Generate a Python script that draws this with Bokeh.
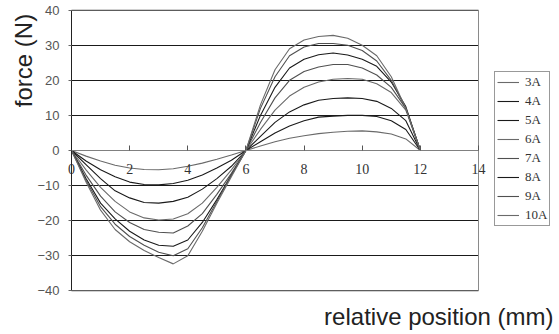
from bokeh.plotting import figure
from bokeh.models import Range1d, Legend, LegendItem, Label, FixedTicker
from bokeh.embed import file_html
from bokeh.resources import INLINE
import math

# relative position (mm)
pos = [0, 0.5, 1, 1.5, 2, 2.5, 3, 3.5, 4, 4.5, 5, 5.5, 6,
       6.5, 7, 7.5, 8, 8.5, 9, 9.5, 10, 10.5, 11, 11.5, 12]

f_3A = [0, -1.6, -3.0, -4.2, -5.0, -5.4, -5.5, -5.2, -4.5, -3.6, -2.5, -1.3, 0,
        1.3, 2.5, 3.5, 4.2, 4.8, 5.2, 5.5, 5.6, 5.3, 4.7, 3.3, 0]
f_4A = [0, -3.0, -5.5, -7.5, -9.0, -9.7, -9.8, -9.4, -8.5, -7.0, -5.0, -2.8, 0,
        2.5, 5.0, 7.0, 8.5, 9.5, 9.8, 10.0, 10.0, 9.7, 8.5, 6.0, 0]
f_5A = [0, -4.0, -8.0, -11.5, -13.5, -14.8, -15.0, -14.5, -13.3, -11.0, -8.0, -4.5, 0,
        4.0, 8.0, 11.0, 13.0, 14.3, 14.8, 15.0, 14.8, 14.0, 12.0, 8.5, 0]
f_6A = [0, -5.5, -10.5, -14.5, -17.5, -19.2, -19.8, -19.5, -18.0, -15.0, -10.5, -5.5, 0,
        6.0, 11.5, 15.5, 18.0, 19.5, 20.3, 20.5, 20.3, 19.0, 16.5, 11.5, 0]
f_7A = [0, -7.0, -13.0, -17.5, -20.5, -22.5, -23.3, -23.5, -21.5, -18.0, -12.5, -6.5, 0,
        8.0, 15.0, 20.0, 22.5, 23.8, 24.5, 24.5, 23.5, 21.5, 18.0, 12.0, 0]
f_8A = [0, -8.0, -15.0, -19.5, -23.0, -25.5, -27.0, -27.3, -25.5, -20.5, -14.0, -7.0, 0,
        10.0, 18.0, 23.5, 26.0, 27.3, 27.8, 27.2, 26.0, 24.0, 19.5, 12.5, 0]
f_9A = [0, -8.5, -16.0, -21.0, -24.5, -27.0, -29.0, -30.0, -28.0, -22.0, -14.5, -7.0, 0,
        12.0, 21.0, 27.0, 29.5, 30.5, 30.5, 30.0, 28.5, 25.5, 20.0, 12.0, 0]
f_10A = [0, -9.0, -17.0, -22.5, -26.0, -28.5, -30.5, -32.3, -30.0, -23.0, -15.0, -7.5, 0,
         13.0, 23.0, 29.0, 31.5, 32.5, 32.8, 32.0, 30.0, 27.0, 21.0, 12.0, 0]

series_names = ["3A", "4A", "5A", "6A", "7A", "8A", "9A", "10A"]
series_values = [f_3A, f_4A, f_5A, f_6A, f_7A, f_8A, f_9A, f_10A]
series_colors = ["#6a6a6a", "#1a1a1a", "#1a1a1a", "#6a6a6a",
                 "#505050", "#1a1a1a", "#505050", "#6a6a6a"]

x_ticks = [0, 2, 4, 6, 8, 10, 12, 14]
y_ticks = [-40, -30, -20, -10, 0, 10, 20, 30, 40]

W, H = 559, 334
# plot box placement on the canvas (pixels)
box_left, box_right, box_top, box_bottom = 71, 478, 9.6, 290.4
xs = (box_right - box_left) / (x_ticks[-1] - x_ticks[0])
ys = (box_bottom - box_top) / (y_ticks[-1] - y_ticks[0])
x_range = Range1d(x_ticks[0] - box_left / xs, x_ticks[-1] + (W - box_right) / xs)
y_range = Range1d(y_ticks[0] - (H - box_bottom) / ys, y_ticks[-1] + box_top / ys)

p = figure(width=W, height=H, output_backend="svg", toolbar_location=None,
           x_range=x_range, y_range=y_range,
           min_border_left=0, min_border_right=0,
           min_border_top=0, min_border_bottom=0)
p.background_fill_color = "white"
p.border_fill_color = "white"
p.outline_line_color = None

# grid (horizontal lines across the plot box only)
p.xgrid.visible = False
p.ygrid.ticker = FixedTicker(ticks=y_ticks)
p.ygrid.grid_line_color = "#1a1a1a"
p.ygrid.grid_line_width = 1
p.ygrid.cross_bounds = (x_ticks[0], x_ticks[-1])

# plot box (right / top / bottom edges)
p.quad(left=[x_ticks[0]], right=[x_ticks[-1]], bottom=[y_ticks[0]], top=[y_ticks[-1]],
       fill_color=None, line_color="#8a8a8a", line_width=1)

# x axis at y = 0
xa = p.xaxis[0]
xa.ticker = FixedTicker(ticks=x_ticks)
xa.fixed_location = 0
xa.bounds = (x_ticks[0], x_ticks[-1])
xa.axis_line_color = "#808080"
xa.major_tick_in = 5
xa.major_tick_out = 0
xa.minor_tick_line_color = None
xa.major_tick_line_color = "#555555"
xa.major_label_standoff = 13
xa.major_label_text_font = "Liberation Serif"
xa.major_label_text_font_size = "14px"
xa.major_label_text_color = "#333333"

ya = p.yaxis[0]
ya.ticker = FixedTicker(ticks=y_ticks)
ya.fixed_location = x_ticks[0]
ya.bounds = (y_ticks[0], y_ticks[-1])
ya.axis_line_color = "#222222"
ya.major_tick_in = 0
ya.major_tick_out = 3
ya.major_tick_line_color = "#666666"
ya.minor_tick_line_color = None
ya.major_label_standoff = 9
ya.major_label_text_font = "Liberation Sans"
ya.major_label_text_font_size = "13px"
ya.major_label_text_color = "#555555"

items = []
for name, vals, col in zip(series_names, series_values, series_colors):
    r = p.line(pos, vals, line_color=col, line_width=1.1)
    items.append(LegendItem(label=name, renderers=[r]))

legend = Legend(items=items, location=(494, 108),
                border_line_color="#333333", border_line_width=1,
                background_fill_color="white", background_fill_alpha=1,
                label_text_font="Liberation Serif", label_text_font_size="13px",
                label_text_color="#333333",
                glyph_width=22, glyph_height=14, label_standoff=6,
                spacing=3, padding=2, margin=0)
p.add_layout(legend)

p.add_layout(Label(x=23, y=H - 60, x_units="screen", y_units="screen",
                   text="force (N)", angle=math.pi / 2, text_align="center",
                   text_baseline="middle", text_font="Liberation Sans",
                   text_font_size="24px", text_color="#222222"))
p.add_layout(Label(x=553, y=H - 316, x_units="screen", y_units="screen",
                   text="relative position (mm)", text_align="right",
                   text_baseline="middle", text_font="Liberation Sans",
                   text_font_size="24px", text_color="#222222"))

open("out.html", "w").write(file_html(p, INLINE))
